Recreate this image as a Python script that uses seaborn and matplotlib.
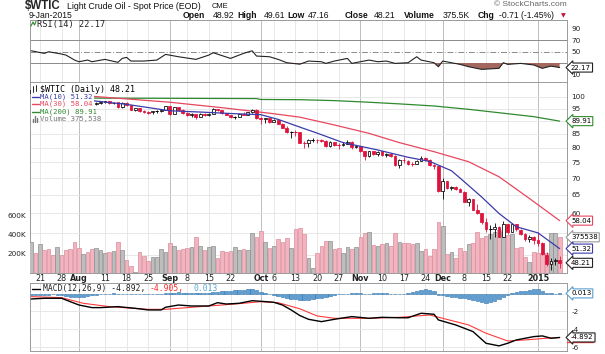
import numpy as np
import pandas as pd
import matplotlib
matplotlib.use("Agg")
import matplotlib.pyplot as plt
from matplotlib.patches import Rectangle
from matplotlib.lines import Line2D
from matplotlib.ticker import NullLocator
import seaborn as sns

sns.set_theme(style="white")
plt.rcParams["font.family"] = ["DejaVu Sans"]

# ------------------------------------------------------------------ data
holidays = ["2014-09-01", "2014-11-27", "2014-12-25", "2015-01-01"]
dates = pd.bdate_range("2014-07-17", "2015-01-09")
dates = dates[~dates.isin(pd.to_datetime(holidays))]

opens = [101.8, 103.2, 103.1, 104.6, 104.4, 103.1, 102.1, 102.1, 101.7, 101.0, 100.3,
         98.2, 97.9, 98.3, 97.4, 96.9, 97.3, 97.7, 98.1, 97.4, 97.6, 95.6, 97.4, 96.4, 94.5, 95.1, 94.0, 93.7, 93.4, 93.9, 93.9, 94.6,
         96.0, 92.9, 95.5, 94.5, 93.3, 92.3, 92.8, 91.7, 92.8, 92.3, 92.9, 94.9, 94.4, 93.1, 92.4, 91.5, 91.6, 92.8, 92.5, 93.5, 94.6,
         91.2, 90.7, 91.0, 89.7, 90.3, 88.9, 87.3, 85.8, 85.8, 85.7, 81.8, 81.8, 82.7, 82.8, 82.7, 82.5, 80.5, 82.1, 81.0, 81.0, 81.4, 82.2, 80.1,
         80.5, 78.8, 77.2, 78.7, 77.9, 78.7, 77.4, 77.9, 77.2, 74.2, 75.8, 75.6, 74.6, 74.6, 75.6, 76.5, 75.8, 74.1, 73.7,
         66.2, 69.0, 66.9, 67.4, 66.8, 65.8, 63.1, 63.8, 60.9, 60.0, 57.8, 55.9, 55.9, 56.5, 54.1, 57.1, 55.3, 57.1, 55.8, 54.7, 53.6, 54.1,
         53.3, 52.7, 50.0, 47.9, 48.7, 48.92]
highs = [103.8, 103.6, 104.8, 105.2, 104.6, 103.3, 102.7, 102.4, 101.9, 101.3, 100.5,
         98.7, 98.5, 98.4, 97.8, 98.0, 98.2, 98.3, 98.4, 97.8, 97.7, 97.6, 97.6, 96.6, 95.4, 95.2, 94.3, 94.0, 94.0, 94.4, 95.0, 96.1,
         96.1, 95.7, 95.8, 94.9, 93.5, 93.0, 92.9, 93.0, 93.0, 93.2, 95.1, 95.0, 94.5, 93.3, 92.5, 92.0, 93.0, 93.5, 93.7, 95.0, 94.7,
         91.4, 91.3, 91.2, 90.8, 90.4, 89.0, 88.0, 86.1, 86.3, 85.9, 82.3, 83.0, 83.3, 83.0, 83.0, 82.6, 82.3, 82.2, 81.6, 81.9, 82.6, 82.3, 81.1,
         80.6, 78.9, 78.9, 78.9, 78.8, 78.8, 78.2, 78.0, 77.3, 76.0, 76.7, 75.8, 75.2, 75.8, 77.0, 76.9, 76.1, 74.4, 73.8,
         69.9, 69.2, 67.5, 67.6, 67.0, 66.0, 64.0, 63.9, 62.5, 60.1, 58.6, 57.0, 57.5, 56.8, 58.0, 57.3, 57.5, 57.2, 56.0, 55.0, 54.5, 54.2,
         55.1, 52.8, 50.6, 49.3, 49.3, 49.61]
lows = [101.2, 102.6, 102.9, 103.9, 102.8, 101.9, 101.6, 101.2, 100.5, 99.8, 97.9,
        97.1, 97.4, 96.9, 96.7, 96.6, 96.9, 97.2, 97.0, 96.8, 95.3, 95.3, 96.2, 94.3, 94.2, 93.5, 93.1, 92.9, 92.9, 93.3, 93.6, 94.4,
        92.5, 92.7, 94.2, 92.9, 91.9, 91.6, 90.9, 91.5, 92.0, 91.8, 92.8, 94.0, 92.8, 92.2, 91.2, 90.8, 91.4, 92.3, 92.3, 93.3, 90.9,
        88.9, 89.2, 89.3, 89.4, 88.6, 87.1, 85.4, 83.6, 84.1, 81.6, 80.0, 80.3, 81.9, 81.5, 82.0, 80.4, 80.3, 80.7, 79.4, 80.6, 81.2, 79.7, 79.8,
        78.4, 75.8, 76.7, 77.3, 77.0, 77.0, 76.9, 76.8, 73.8, 73.3, 74.8, 74.2, 73.9, 74.4, 75.4, 75.4, 73.9, 72.8, 65.7,
        63.7, 66.6, 66.3, 66.5, 65.7, 62.9, 62.0, 60.8, 59.8, 57.3, 55.3, 53.6, 54.0, 53.9, 53.9, 54.8, 55.1, 55.5, 54.5, 53.1, 52.8, 52.4,
        52.0, 49.8, 47.6, 46.8, 47.7, 47.16]
closes = [103.19, 103.13, 104.59, 104.42, 103.12, 102.07, 102.09, 101.67, 100.97, 100.27, 98.17,
          97.88, 98.29, 97.38, 96.92, 97.34, 97.65, 98.08, 97.37, 97.59, 95.58, 97.35, 96.41, 94.48, 95.07, 93.96, 93.65, 93.35, 93.86, 93.88, 94.55, 95.96,
          92.88, 95.54, 94.45, 93.29, 92.29, 92.75, 91.67, 92.83, 92.27, 92.92, 94.88, 94.42, 93.07, 92.41, 91.52, 91.56, 92.80, 92.53, 93.54, 94.57, 91.16,
          90.73, 91.01, 89.74, 90.34, 88.85, 87.31, 85.77, 85.82, 85.74, 81.84, 81.78, 82.70, 82.75, 82.71, 82.49, 80.52, 82.09, 81.01, 81.00, 81.42, 82.20, 80.12, 80.54,
          78.78, 77.19, 78.68, 77.91, 78.65, 77.40, 77.94, 77.18, 74.21, 75.82, 75.64, 74.61, 74.58, 75.58, 76.51, 75.78, 74.09, 73.69, 66.15,
          69.00, 66.88, 67.38, 66.81, 65.84, 63.05, 63.82, 60.94, 59.95, 57.81, 55.93, 55.93, 56.47, 54.11, 57.13, 55.26, 57.12, 55.84, 54.73, 53.61, 54.12, 53.27,
          52.69, 50.04, 47.93, 48.65, 48.79, 48.21]
volume_k = [323, 207, 302, 242, 249, 186, 270, 186, 242, 249, 323, 260, 197, 225, 249, 260, 242, 207, 225, 232,
            330, 242, 137, 74, 14, 218, 179, 126, 165, 165, 249, 225, 312, 284, 242, 253, 260, 270, 382, 284,
            242, 277, 288, 154, 235, 225, 235, 270, 242, 249, 242, 418, 382, 445, 330, 267, 284, 355, 323, 372,
            267, 460,
            470, 407, 154, 49, 207, 284, 340, 337, 249, 267, 214, 270, 249, 277, 382, 418, 435, 295, 284, 302,
            319, 284, 424, 330, 319, 312, 305, 319, 232, 249, 179, 249, 540, 495, 200, 218, 161, 260, 232, 305,
            312, 435, 365, 389, 407, 435, 453, 435, 400, 410, 260, 277, 165, 116, 225, 207, 214, 214, 418, 424,
            375.538]

ma10_dates = ["2014-08-04", "2014-08-18", "2014-09-02", "2014-09-12", "2014-09-23", "2014-10-01", "2014-10-07",
              "2014-10-15", "2014-10-20", "2014-10-28", "2014-11-07", "2014-11-18", "2014-11-25", "2014-12-03",
              "2014-12-05", "2014-12-12", "2014-12-18", "2014-12-24", "2015-01-02", "2015-01-09"]
ma10_vals = [98.8, 96.8, 94.1, 93.5, 92.9, 92.5, 90.6, 87.0, 85.3, 81.8, 79.2, 76.7, 75.3, 72.3,
             70.0, 64.4, 59.9, 56.5, 55.0, 51.32]
ma30_dates = ["2014-08-04", "2014-09-02", "2014-09-18", "2014-10-03", "2014-10-14", "2014-10-24", "2014-11-05",
              "2014-11-14", "2014-11-26", "2014-12-09", "2014-12-18", "2014-12-30", "2015-01-09"]
ma30_vals = [100.6, 97.7, 95.4, 93.1, 91.5, 88.4, 85.2, 81.8, 78.6, 75.2, 70.4, 64.0, 58.04]
ma200_dates = ["2014-08-04", "2014-09-02", "2014-09-30", "2014-10-01", "2014-10-14", "2014-10-24", "2014-11-05",
               "2014-11-14", "2014-11-26", "2014-12-09", "2014-12-18", "2014-12-31", "2015-01-09"]
ma200_vals = [99.5, 99.4, 99.3, 98.9, 98.8, 98.4, 97.7, 97.0, 96.1, 94.7, 93.3, 91.7, 89.91]

rsi_dates = ["2014-07-17", "2014-07-22", "2014-07-23", "2014-07-28", "2014-07-29", "2014-07-31", "2014-08-01",
             "2014-08-05", "2014-08-06", "2014-08-11", "2014-08-14", "2014-08-15", "2014-08-18", "2014-08-19",
             "2014-08-22", "2014-08-27", "2014-08-29", "2014-09-04", "2014-09-10", "2014-09-15", "2014-09-16",
             "2014-09-22", "2014-09-25", "2014-09-29", "2014-09-30", "2014-10-03", "2014-10-07", "2014-10-09",
             "2014-10-14", "2014-10-16", "2014-10-21", "2014-10-22", "2014-10-24", "2014-10-29", "2014-10-30",
             "2014-11-05", "2014-11-07", "2014-11-11", "2014-11-13", "2014-11-18", "2014-11-20", "2014-11-21",
             "2014-11-26", "2014-11-28", "2014-12-01", "2014-12-03", "2014-12-05", "2014-12-09", "2014-12-12",
             "2014-12-18", "2014-12-19", "2014-12-22", "2014-12-26", "2014-12-31", "2015-01-05", "2015-01-07",
             "2015-01-09"]
rsi_vals = [51.4, 46.8, 49.7, 45.7, 43.9, 35.2, 32.3, 35.2, 32.3, 36.4, 31.2, 38.1, 39.9, 33.5, 33.5, 35.2,
            45.1, 41.0, 36.4, 43.9, 48.0, 38.1, 46.8, 51.4, 42.2, 41.0, 36.4, 30.6, 28.0, 33.5, 32.3, 29.4,
            33.5, 38.1, 29.4, 35.2, 32.3, 33.5, 29.4, 30.6, 41.0, 35.2, 30.6, 23.6, 33.5, 30.6, 27.7, 23.6,
            19.0, 20.8, 30.6, 27.7, 29.4, 26.7, 20.8, 24.7, 22.17]

macd_dates = ["2014-07-17", "2014-07-22", "2014-07-28", "2014-07-29", "2014-08-01", "2014-08-06", "2014-08-08",
              "2014-08-14", "2014-08-20", "2014-08-25", "2014-08-28", "2014-08-29", "2014-09-04", "2014-09-09",
              "2014-09-15", "2014-09-17", "2014-09-19", "2014-09-24", "2014-09-29", "2014-10-02", "2014-10-06",
              "2014-10-08", "2014-10-10", "2014-10-14", "2014-10-16", "2014-10-21", "2014-10-24", "2014-10-30",
              "2014-11-05", "2014-11-10", "2014-11-14", "2014-11-18", "2014-11-21", "2014-11-26", "2014-11-28",
              "2014-12-04", "2014-12-10", "2014-12-15", "2014-12-18", "2014-12-22", "2014-12-24", "2014-12-31",
              "2015-01-05", "2015-01-07", "2015-01-09"]
macd_vals = [-0.61, -0.53, -0.53, -0.72, -1.28, -1.57, -1.57, -1.46, -1.65, -1.83, -1.83, -1.53, -1.28, -1.39,
             -1.39, -1.02, -1.17, -1.09, -0.80, -0.90, -0.98, -1.28, -1.83, -2.45, -2.87, -3.13, -2.87, -2.57,
             -2.76, -2.65, -2.70, -2.70, -2.20, -2.31, -2.94, -3.50, -4.24, -5.54, -5.83, -5.54, -5.17, -4.80,
             -4.72, -4.98, -4.892]
signal_dates = ["2014-07-17", "2014-07-28", "2014-08-04", "2014-08-12", "2014-08-25", "2014-08-29", "2014-09-11",
                "2014-09-23", "2014-10-01", "2014-10-07", "2014-10-14", "2014-10-20", "2014-10-24", "2014-11-05",
                "2014-11-14", "2014-11-25", "2014-12-01", "2014-12-09", "2014-12-15", "2014-12-22", "2014-12-29",
                "2015-01-06", "2015-01-09"]
signal_vals = [-0.35, -0.46, -1.09, -1.46, -1.76, -1.76, -1.46, -1.17, -0.91, -1.02, -1.70, -2.50, -2.76, -2.76,
               -2.65, -2.39, -2.76, -3.50, -4.42, -5.28, -5.17, -4.98, -4.905]
hist_vals = [-0.20, -0.22, -0.20, -0.15, -0.12, -0.10, -0.12, -0.20, -0.28, -0.35, -0.40, -0.40, -0.35, -0.28, -0.20,
             -0.12, -0.08, -0.03, 0.00, 0.02, 0.00, -0.02, -0.05, -0.08, -0.10, -0.10, -0.10, -0.08, -0.05, -0.03,
             0.00, 0.05, 0.08, 0.10, 0.12, 0.10, 0.08, 0.06, 0.05, 0.05, 0.06, 0.08, 0.15,
             0.20, 0.28, 0.32, 0.30, 0.35, 0.40, 0.42, 0.45, 0.48, 0.35, 0.20,
             0.05, -0.05, -0.12, -0.25, -0.38, -0.50, -0.60, -0.65, -0.72, -0.72, -0.68, -0.60, -0.55, -0.50,
             -0.40, -0.30, -0.20, -0.10,
             -0.05, 0.00, 0.05, 0.05, 0.03, 0.00, 0.00, 0.02, 0.05, 0.05, 0.03, 0.00, -0.03, -0.02, 0.00, 0.05, 0.12,
             0.25, 0.40, 0.45, 0.40, 0.30,
             -0.15, -0.20, -0.30, -0.35, -0.40, -0.45, -0.55, -0.65, -0.75, -0.85, -0.95, -1.05, -0.95, -0.80,
             -0.60, -0.35, -0.15,
             0.10, 0.20, 0.25, 0.30, 0.38, 0.45, 0.45, 0.25, 0.10,
             0.02, 0.00, 0.013]

tick_dates = ["2014-07-21", "2014-07-28", "2014-08-01", "2014-08-11", "2014-08-18", "2014-08-25", "2014-09-02",
              "2014-09-08", "2014-09-15", "2014-09-22", "2014-10-01", "2014-10-06", "2014-10-13", "2014-10-20",
              "2014-10-27", "2014-11-03", "2014-11-10", "2014-11-17", "2014-11-24", "2014-12-01", "2014-12-08",
              "2014-12-15", "2014-12-22", "2015-01-02"]
tick_labels = ["21", "28", "Aug", "11", "18", "25", "Sep", "8", "15", "22", "Oct", "6", "13", "20", "27",
               "Nov", "10", "17", "24", "Dec", "8", "15", "22", "2015"]

price_ticks = [50, 55, 60, 65, 70, 75, 80, 85, 90, 95, 100]
rsi_ticks = [10, 30, 50, 70, 90]
macd_ticks = [0, -2, -4, -6]
vol_ticks = [200, 400, 600]

# ------------------------------------------------------------------ helpers
day_of = {d: i for i, d in enumerate(dates.strftime("%Y-%m-%d"))}
def days(lst):
    return np.array([day_of[d] for d in lst])

o = np.array(opens); h = np.array(highs); l = np.array(lows); c = np.array(closes)
vol = np.array(volume_k)
n = len(c)
x = np.arange(n)
prev = np.r_[o[0], c[:-1]]
up = c >= prev

W, H = 605, 354
fig = plt.figure(figsize=(W / 100, H / 100), dpi=100)
fig.patch.set_facecolor("white")

def rect(lf, t, r, b):
    return [lf / W, 1 - b / H, (r - lf) / W, (b - t) / H]

def P(xp, yp):
    return (xp / W, 1 - yp / H)

def T(xp, yp, s, **kw):
    kw.setdefault("va", "center")
    kw.setdefault("ha", "left")
    return fig.text(xp / W, 1 - yp / H, s, **kw)

LEFT, RIGHT = 30, 567
ax_rsi = fig.add_axes(rect(LEFT, 20, RIGHT, 82))
ax_bg = fig.add_axes(rect(LEFT, 82, RIGHT, 273))
ax_vol = fig.add_axes(rect(LEFT, 82, RIGHT, 273))
ax_px = fig.add_axes(rect(LEFT, 82, RIGHT, 273))
ax_macd = fig.add_axes(rect(LEFT, 283, RIGHT, 351))
ax_bg.set_zorder(0); ax_vol.set_zorder(1); ax_px.set_zorder(2)
ax_vol.patch.set_visible(False); ax_px.patch.set_visible(False)

XL = (-0.3, n + 0.7)
PLIM = (46.1, 106.8)
for ax in (ax_bg, ax_px):
    ax.set_yscale("log")
    ax.set_ylim(*PLIM)
for ax in (ax_rsi, ax_bg, ax_vol, ax_px, ax_macd):
    ax.set_xlim(*XL)
    for axis in (ax.xaxis, ax.yaxis):
        axis.set_major_locator(NullLocator())
        axis.set_minor_locator(NullLocator())
    ax.set_xlabel(""); ax.set_ylabel("")
    for s in ax.spines.values():
        s.set_color("#9a9a9a"); s.set_linewidth(0.7)
for ax in (ax_vol, ax_px):
    for s in ax.spines.values():
        s.set_visible(False)
ax_vol.set_ylim(0, 2010)
ax_rsi.set_ylim(-3, 105)
ax_macd.set_ylim(-6.4, 1.17)

tick_idx = days(tick_dates)
is_month = [not lb.isdigit() or len(lb) == 4 for lb in tick_labels]
for ax in (ax_rsi, ax_bg, ax_macd):
    for xi, m in zip(tick_idx, is_month):
        ax.axvline(xi, color="#bdbdbd" if m else "#e4e4e4", lw=0.7 if m else 0.6, zorder=0)
for p in price_ticks:
    ax_bg.axhline(p, color="#e4e4e4", lw=0.6, zorder=0)
for mv in macd_ticks:
    ax_macd.axhline(mv, color="#e4e4e4", lw=0.6, zorder=0)
ax_rsi.axhline(70, color="#8a8a8a", lw=0.7, zorder=1)
ax_rsi.axhline(30, color="#8a8a8a", lw=0.7, zorder=1)
ax_rsi.axhline(50, color="#8a8a8a", lw=0.7, ls=(0, (6, 2, 1, 2)), zorder=1)

# right-hand labels hidden behind the value tags are left blank
def right_labels(ax, ticks, hidden):
    ax.yaxis.tick_right()
    ax.set_yticks(ticks)
    ax.set_yticklabels(["" if t in hidden else str(t) for t in ticks])
    ax.tick_params(axis="y", length=0, pad=3, labelsize=5.2, labelcolor="#222")

# ------------------------------------------------------------------ volume
vcol = np.where(up, "#bdbdbd", "#f2b5c0")
vedge = np.where(up, "#8e8e8e", "#dc8c9c")
ax_vol.bar(x, vol, width=0.86, color=vcol, edgecolor=vedge, linewidth=0.5)
ax_vol.set_ylim(0, 2010)
ax_vol.yaxis.tick_left()
ax_vol.set_yticks(vol_ticks)
ax_vol.set_yticklabels([f"{v}K" for v in vol_ticks])
ax_vol.tick_params(axis="y", length=0, pad=3, labelsize=5.2, labelcolor="#222")

# ------------------------------------------------------------------ candles
RED = "#e0123c"
ccol = np.where(up, "black", RED)
ax_px.vlines(x, l, h, colors=ccol, lw=0.6, zorder=3)
body_lo = np.minimum(o, c); body_h = np.abs(c - o)
face = np.where(c < o, ccol, "white")
ax_px.bar(x, body_h, bottom=body_lo, width=0.64, color=face, edgecolor=ccol, linewidth=0.55, zorder=4)
flat = body_h < 0.08
ax_px.hlines(c[flat], x[flat] - 0.35, x[flat] + 0.35, colors=ccol[flat], lw=0.7, zorder=4)

sns.lineplot(x=days(ma200_dates), y=ma200_vals, ax=ax_px, color="#2f8a2f", lw=0.9, legend=False, zorder=2)
sns.lineplot(x=days(ma30_dates), y=ma30_vals, ax=ax_px, color="#e8475f", lw=0.9, legend=False, zorder=2)
sns.lineplot(x=days(ma10_dates), y=ma10_vals, ax=ax_px, color="#3b3bab", lw=0.9, legend=False, zorder=5)
ax_px.set_xlim(*XL); ax_px.set_ylim(*PLIM)
ax_px.set_xlabel(""); ax_px.set_ylabel("")
ax_px.yaxis.set_minor_locator(NullLocator())
right_labels(ax_px, price_ticks, {90, 55, 50})
ax_px.set_xticks(tick_idx)
ax_px.set_xticklabels(tick_labels)
ax_px.tick_params(axis="x", length=0, pad=1, labelsize=5.8, labelcolor="#222")
for lab, m in zip(ax_px.get_xticklabels(), is_month):
    if m:
        lab.set_fontweight("bold")

# ------------------------------------------------------------------ RSI
rx = days(rsi_dates); ry = np.array(rsi_vals)
ax_rsi.fill_between(rx, ry, 30, where=ry < 30, interpolate=True, color="#a3675d", lw=0, zorder=2)
sns.lineplot(x=rx, y=ry, ax=ax_rsi, color="#222222", lw=0.8, legend=False, zorder=3)
ax_rsi.set_xlim(*XL); ax_rsi.set_ylim(-3, 105)
ax_rsi.set_xlabel(""); ax_rsi.set_ylabel("")
ax_rsi.xaxis.set_major_locator(NullLocator())
right_labels(ax_rsi, rsi_ticks, {30})

# ------------------------------------------------------------------ MACD
ax_macd.bar(x, hist_vals, width=0.8, color="#5f9fd2", edgecolor="#2f74ad", linewidth=0.4, zorder=2)
sns.lineplot(x=days(signal_dates), y=signal_vals, ax=ax_macd, color="#ff3b3b", lw=0.8, legend=False, zorder=3)
sns.lineplot(x=days(macd_dates), y=macd_vals, ax=ax_macd, color="black", lw=1.0, legend=False, zorder=4)
ax_macd.set_xlim(*XL); ax_macd.set_ylim(-6.4, 1.17)
ax_macd.set_xlabel(""); ax_macd.set_ylabel("")
ax_macd.xaxis.set_major_locator(NullLocator())
right_labels(ax_macd, macd_ticks, {0})

# ------------------------------------------------------------------ value tags
def tag_y(ax, val):
    return ax.transData.transform((0, val))[1] / H

def tag(ax, val, text, ec):
    fig.text(571 / W, tag_y(ax, val), text, fontsize=5, ha="left", va="center", color="black", zorder=10,
             bbox=dict(boxstyle="larrow,pad=0.22", fc="white", ec=ec, lw=0.8))

tag(ax_rsi, rsi_vals[-1], f"{rsi_vals[-1]:.2f}", "#222222")
tag(ax_px, ma200_vals[-1], f"{ma200_vals[-1]:.2f}", "#2f8a2f")
tag(ax_px, ma30_vals[-1], f"{ma30_vals[-1]:.2f}", "#e8475f")
tag(ax_vol, vol[-1], f"{int(round(vol[-1] * 1000))}", "#9a9a9a")
tag(ax_px, ma10_vals[-1], f"{ma10_vals[-1]:.2f}", "#3b3bab")
tag(ax_px, c[-1], f"{c[-1]:.2f}", "#222222")
tag(ax_macd, hist_vals[-1], f"{hist_vals[-1]:.3f}", "#5a9fd0")
# signal tag sits just under the MACD tag: only its red lower edge shows
ys = tag_y(ax_macd, signal_vals[-1]) - 4.2 / H
fig.add_artist(Line2D([567 / W, 593 / W], [ys, ys], transform=fig.transFigure, color="#ff3b3b", lw=1.0, zorder=9))
tag(ax_macd, macd_vals[-1], f"{macd_vals[-1]:.3f}", "#222222")

# ------------------------------------------------------------------ header
SANS = "Liberation Sans"
T(25, 6, "$WTIC", fontsize=8.3, weight="bold", family=SANS)
T(67, 6.5, "Light Crude Oil - Spot Price (EOD)", fontsize=6.3, family=SANS, color="#111")
T(212, 7, "CME", fontsize=5.4, family=SANS, color="#111")
T(567, 5, "\u00a9 StockCharts.com", fontsize=6, family=SANS, color="#666", ha="right")
T(29, 15, "9-Jan-2015", fontsize=6.2, family=SANS, color="#111")
hdr = [(183, "Open", True), (213, "48.92", False), (237, "High", True), (264, "49.61", False),
       (287, "Low", True), (308, "47.16", False), (345, "Close", True), (374, "48.21", False),
       (404, "Volume", True), (443, "375.5K", False), (478, "Chg", True), (499, "-0.71 (-1.45%)", False)]
for xp, s, b in hdr:
    T(xp, 15, s, fontsize=6.2, family=SANS, weight="bold" if b else "normal", color="#111")
T(561, 15.5, "\u25bc", fontsize=4.5, color="#cc1133")

# ------------------------------------------------------------------ legends
fig.add_artist(Rectangle(P(30.7, 116), (94 - 30.7) / W, (116 - 83) / H, transform=fig.transFigure,
                         fc="white", ec="none", zorder=5))
MONO = "DejaVu Sans Mono"
for xx, y0, y1 in [(33, 86, 92), (36, 85, 91)]:
    fig.add_artist(Line2D([xx / W, xx / W], [1 - y0 / H, 1 - y1 / H], transform=fig.transFigure, color="black", lw=0.6, zorder=6))
T(40, 89, "$WTIC (Daily) 48.21", fontsize=6.0, family=MONO, color="black", zorder=6)
leg = [(96.5, "MA(10) 51.32", "#3b3bab"), (104, "MA(30) 58.04", "#e8475f"), (111.5, "MA(200) 89.91", "#2f8a2f")]
for yp, s, col in leg:
    fig.add_artist(Line2D([32 / W, 39 / W], [1 - yp / H, 1 - yp / H], transform=fig.transFigure, color=col, lw=1.0, zorder=6))
    T(40, yp, s, fontsize=5.2, family=MONO, color=col, zorder=6)
for xx, hh in [(32.5, 3), (34.5, 5), (36.5, 4)]:
    fig.add_artist(Line2D([xx / W, xx / W], [1 - 121.5 / H, 1 - (121.5 - hh) / H], transform=fig.transFigure, color="#777", lw=1.0, zorder=6))
T(40, 119.5, "Volume 375,538", fontsize=5.2, family=MONO, color="#777", zorder=6)

fig.add_artist(Line2D([31 / W, 33 / W, 34.5 / W, 36 / W], [1 - 26 / H, 1 - 22 / H, 1 - 25 / H, 1 - 21.5 / H],
                      transform=fig.transFigure, color="#2f8a2f", lw=0.8, zorder=6))
T(37, 24.5, "RSI(14) 22.17", fontsize=6.2, family=MONO, color="#222", zorder=6)

MY = 288.5
fig.add_artist(Line2D([32 / W, 40 / W], [1 - MY / H, 1 - MY / H], transform=fig.transFigure, color="black", lw=1.0, zorder=6))
T(43, MY, "MACD(12,26,9) -4.892,", fontsize=5.8, family=MONO, color="#222", zorder=6)
T(150, MY, "-4.905,", fontsize=5.8, family=MONO, color="#ff2a2a", zorder=6)
T(193, MY, "0.013", fontsize=5.8, family=MONO, color="#5aa6d8", zorder=6)

fig.savefig("out.png", dpi=100, facecolor="white")
